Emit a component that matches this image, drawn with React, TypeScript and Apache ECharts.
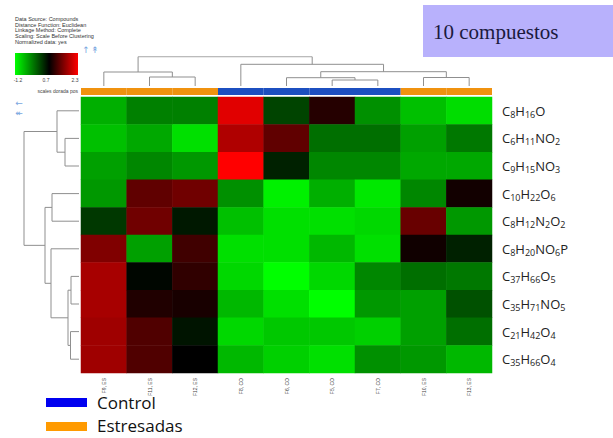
import React, { useEffect, useRef } from "react";
import * as echarts from "echarts";

const columns = ["F9, ES", "F11, ES", "F12, ES", "F8, CO", "F6, CO", "F5, CO", "F7, CO", "F10, ES", "F13, ES"];
const columnGroups = ["ES", "ES", "ES", "CO", "CO", "CO", "CO", "ES", "ES"];
const rows = ["C8H16O", "C6H11NO2", "C9H15NO3", "C10H22O6", "C8H12N2O2", "C8H20NO6P", "C37H66O5", "C35H71NO5", "C21H42O4", "C35H66O4"];

const values: number[][] = [
  [-0.61, -0.25, -0.25, 2.11, 0.19, 0.93, -0.37, -0.73, -0.95],
  [-0.73, -0.55, -0.97, 1.8, 1.3, -0.13, -0.13, -0.49, -0.19],
  [-0.49, -0.31, -0.43, 2.3, 0.46, -0.31, -0.31, -0.55, -0.55],
  [-0.43, 1.3, 1.4, -0.37, -1.09, -0.61, -1.03, -0.31, 0.81],
  [0.28, 1.4, 0.52, -0.73, -0.97, -0.97, -0.91, 1.35, -0.43],
  [1.5, -0.49, 1.1, -0.97, -0.97, -0.67, -0.97, 0.8, 0.46],
  [1.75, 0.66, 1.0, -0.91, -1.2, -0.91, -0.31, -0.13, -0.19],
  [1.75, 0.9, 0.85, -0.67, -0.97, -1.2, -0.43, -0.49, 0.1],
  [1.7, 1.2, 0.55, -0.91, -0.79, -0.79, -0.85, -0.49, -0.13],
  [1.7, 1.2, 0.7, -0.67, -0.85, -0.97, -0.37, -0.43, -0.67],
];

const scaleMin = -1.2;
const scaleMid = 0.7;
const scaleMax = 2.3;
const scaleLabels = ["-1.2", "0.7", "2.3"];

// linkage: [childA, childB, height]
const colLinkage: number[][] = [
  [5, 6, 6],
  [4, 9, 8.3],
  [7, 8, 8.5],
  [1, 2, 9],
  [0, 12, 14],
  [10, 11, 14.3],
  [3, 14, 21.7],
  [13, 15, 29.3],
];
const rowLinkage: number[][] = [
  [1, 2, 14],
  [0, 10, 22],
  [3, 4, 27],
  [6, 7, 8],
  [8, 9, 8.5],
  [13, 14, 11],
  [5, 15, 28],
  [12, 16, 34],
  [11, 17, 55],
];

const headerLines = [
  "Data Source: Compounds",
  "Distance Function: Euclidean",
  "Linkage Method: Complete",
  "Scaling: Scale Before Clustering",
  "Normalized data: yes",
];

function colorFor(v: number): string {
  if (v <= scaleMid) {
    const t = Math.min(1, (scaleMid - v) / (scaleMid - scaleMin));
    return `rgb(0,${Math.round(t * 255)},0)`;
  }
  const t = Math.min(1, (v - scaleMid) / (scaleMax - scaleMid));
  return `rgb(${Math.round(t * 255)},0,0)`;
}

function dendroSegments(linkage: number[][], n: number, horizontal: boolean) {
  const pos: number[] = [];
  const hgt: number[] = [];
  for (let i = 0; i < n; i++) {
    pos.push(i + 0.5);
    hgt.push(0);
  }
  const out: { coords: number[][] }[] = [];
  linkage.forEach(([a, b, h]) => {
    const pts = [
      [pos[a], hgt[a]],
      [pos[a], h],
      [pos[b], h],
      [pos[b], hgt[b]],
    ];
    out.push({ coords: horizontal ? pts.map(([p, q]) => [q, p]) : pts });
    pos.push((pos[a] + pos[b]) / 2);
    hgt.push(h);
  });
  return out;
}

function formulaRich(s: string): string {
  const parts = s.match(/[A-Z][a-z]?|\d+/g) || [];
  return parts.map((p) => (/^\d/.test(p) ? `{s|${p}}` : `{m|${p}}`)).join("");
}

export default function App() {
  const ref = useRef<HTMLDivElement>(null);
  useEffect(() => {
    if (!ref.current) return;
    const chart = echarts.init(ref.current, null, { renderer: "svg" });

    const heatData: number[][] = [];
    values.forEach((row, r) => row.forEach((v, c) => heatData.push([c, r, v])));

    const stops: string[] = [];
    for (let i = 0; i <= 70; i++) stops.push(colorFor(scaleMin + ((scaleMax - scaleMin) * i) / 70));

    const HX = 81, HW = 411, HY = 97, HH = 276;
    const midOff = (scaleMid - scaleMin) / (scaleMax - scaleMin);
    const lineStyle = { color: "#8f8f8f", width: 1, opacity: 1 };
    const arrowStyle = { fontSize: 9, fill: "#7aa7e0", align: "center", verticalAlign: "middle", fontFamily: "DejaVu Sans" };

    const option: any = {
      animation: false,
      backgroundColor: "#ffffff",
      grid: [
        { left: HX, top: HY, width: HW, height: HH },
        { left: HX, top: 56.7, width: HW, height: 29.3 },
        { left: 24, top: HY, width: 55, height: HH },
        { left: HX, top: 88, width: HW, height: 7 },
      ],
      xAxis: [
        {
          type: "category", gridIndex: 0, data: columns,
          axisLine: { show: false }, axisTick: { show: false }, splitLine: { show: false },
          axisLabel: { rotate: 90, fontSize: 5, color: "#444", margin: 5, fontFamily: "Liberation Sans" },
        },
        { type: "value", gridIndex: 1, min: 0, max: 9, show: false },
        { type: "value", gridIndex: 2, min: 0, max: 55, inverse: true, show: false },
        { type: "category", gridIndex: 3, data: columns, show: false },
      ],
      yAxis: [
        {
          type: "category", gridIndex: 0, data: rows, inverse: true, position: "right",
          axisLine: { show: false }, axisTick: { show: false }, splitLine: { show: false },
          axisLabel: {
            margin: 10, color: "#222",
            formatter: (v: string) => formulaRich(v),
            rich: {
              m: { fontSize: 13, fontFamily: "Open Sans", color: "#222" },
              s: { fontSize: 9, fontFamily: "Open Sans", color: "#222", padding: [7, 0, 0, 0] },
            },
          },
        },
        { type: "value", gridIndex: 1, min: 0, max: 29.3, show: false },
        { type: "value", gridIndex: 2, min: 0, max: 10, inverse: true, show: false },
        { type: "value", gridIndex: 3, min: 0, max: 1, show: false },
      ],
      visualMap: {
        type: "continuous", min: scaleMin, max: scaleMax, show: false, seriesIndex: 0,
        inRange: { color: stops },
      },
      series: [
        {
          type: "heatmap", xAxisIndex: 0, yAxisIndex: 0, data: heatData,
          itemStyle: { borderWidth: 0 },
        },
        {
          type: "lines", coordinateSystem: "cartesian2d", xAxisIndex: 1, yAxisIndex: 1,
          polyline: true, data: dendroSegments(colLinkage, columns.length, false), lineStyle,
        },
        {
          type: "lines", coordinateSystem: "cartesian2d", xAxisIndex: 2, yAxisIndex: 2,
          polyline: true, data: dendroSegments(rowLinkage, rows.length, true), lineStyle,
        },
        {
          type: "bar", xAxisIndex: 3, yAxisIndex: 3, barWidth: "100%", barCategoryGap: 0,
          data: columnGroups.map((g) => ({ value: 1, itemStyle: { color: g === "CO" ? "#1c4fc0" : "#f0920f" } })),
        },
      ],
      graphic: [
        ...headerLines.map((t, i) => ({
          type: "text", left: 15, top: 16 + i * 5.7,
          style: { text: t, fontSize: 5.5, fill: "#333", fontFamily: "Liberation Sans" },
        })),
        {
          type: "rect", shape: { x: 15, y: 53, width: 63, height: 22 },
          style: {
            fill: new echarts.graphic.LinearGradient(0, 0, 1, 0, [
              { offset: 0, color: "#00ff00" },
              { offset: midOff, color: "#000000" },
              { offset: 1, color: "#ff0000" },
            ]),
          },
        },
        ...scaleLabels.map((t, i) => ({
          type: "text", x: [18, 46, 75][i], y: 80,
          style: { text: t, fontSize: 5, fill: "#444", align: "center", verticalAlign: "middle", fontFamily: "Liberation Sans" },
        })),
        {
          type: "text", x: 78, y: 91,
          style: { text: "scales dorada pos", fontSize: 5, fill: "#444", align: "right", verticalAlign: "middle", fontFamily: "Liberation Sans" },
        },
        { type: "text", x: 86, y: 50, style: { text: "↑", ...arrowStyle } },
        { type: "text", x: 95, y: 50, style: { text: "↟", ...arrowStyle } },
        { type: "text", x: 19, y: 103, style: { text: "←", ...arrowStyle } },
        { type: "text", x: 19, y: 113, style: { text: "↞", ...arrowStyle } },
        { type: "rect", shape: { x: 423, y: 5, width: 190, height: 52 }, style: { fill: "#b8b1fc" } },
        {
          type: "text", x: 433, y: 32,
          style: { text: "10 compuestos", fontSize: 21, fill: "#1b1a3e", fontFamily: "Liberation Serif", verticalAlign: "middle" },
        },
        { type: "rect", shape: { x: 46, y: 398, width: 41, height: 9 }, style: { fill: "#0000f0" } },
        {
          type: "text", x: 97, y: 402,
          style: { text: "Control", fontSize: 17, lineHeight: 17, fill: "#111", fontFamily: "Open Sans", verticalAlign: "middle" },
        },
        { type: "rect", shape: { x: 46, y: 422, width: 41, height: 9 }, style: { fill: "#ff9a00" } },
        {
          type: "text", x: 97, y: 425,
          style: { text: "Estresadas", fontSize: 17, lineHeight: 17, fill: "#111", fontFamily: "Open Sans", verticalAlign: "middle" },
        },
      ],
    };
    chart.setOption(option);
    return () => chart.dispose();
  }, []);
  return <div ref={ref} style={{ position: "fixed", left: 0, top: 0, width: 613, height: 438 }} />;
}
